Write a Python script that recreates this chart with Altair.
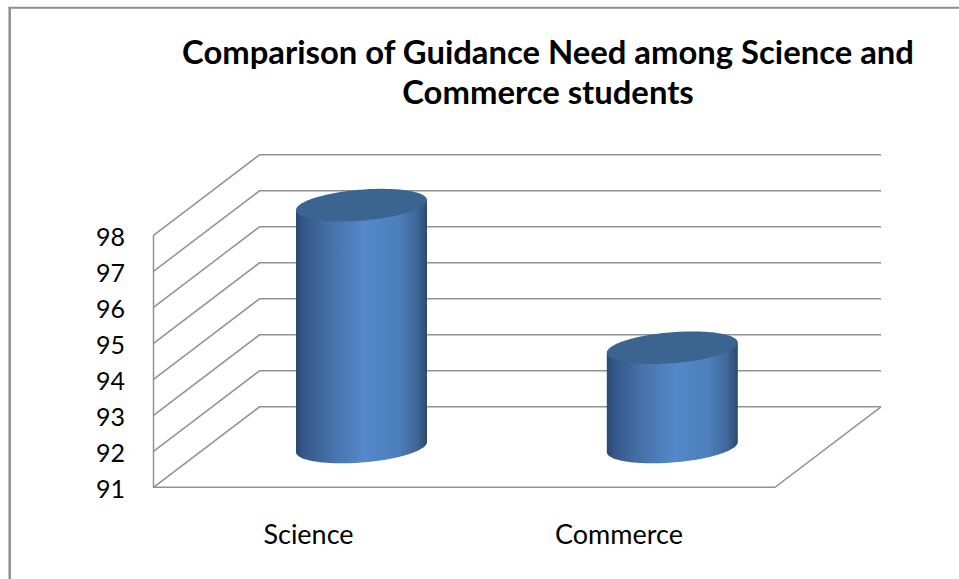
import math

import altair as alt
import pandas as pd

# Chart values
categories = ["Science", "Commerce"]
guidance_need = [97.72, 93.76]
tick_values = [91, 92, 93, 94, 95, 96, 97, 98]
title_lines = ["Comparison of Guidance Need among Science and", "Commerce students"]

# Oblique drawing of the box: horizontal positions on the page, heights in value units
WIDTH, HEIGHT = 959, 579
UNIT = 36.0
FLOOR_PX = 487.3
WALL_X, BACK_X, FRONT_END_X, BACK_END_X = 153.5, 259.5, 775.0, 881.0
DEPTH_RISE = 80.5 / UNIT
CYL_CENTER = [361.5, 672.3]
CYL_HALF_WIDTH = 65.5
ELLIPSE_HALF = 15.5 / UNIT
ELLIPSE_TILT = 5.0 / UNIT / CYL_HALF_WIDTH

GRID_COLOR = "#929292"
FONT = "Lato"

x_scale = alt.Scale(domain=[0, WIDTH], range=[0, WIDTH], nice=False, zero=False)
y_scale = alt.Scale(
    domain=[91 - (HEIGHT - FLOOR_PX) / UNIT, 91 + FLOOR_PX / UNIT],
    range=[HEIGHT, 0],
    nice=False,
    zero=False,
)
X = alt.X("x:Q", scale=x_scale, axis=None)
Y = alt.Y("y:Q", scale=y_scale, axis=None)


def page_level(px):
    """Value level that sits at a given distance from the top of the page."""
    return 91 + (FLOOR_PX - px) / UNIT


# Wall and back lines for every tick, with the floor outline on the lowest one
grid_rows = []
for v in tick_values:
    path = [(WALL_X, v), (BACK_X, v + DEPTH_RISE), (BACK_END_X, v + DEPTH_RISE)]
    for i, (px, val) in enumerate(path):
        grid_rows.append({"line": f"g{v}", "i": i, "x": px, "y": val})
outline = [
    (WALL_X, tick_values[-1]),
    (WALL_X, tick_values[0]),
    (FRONT_END_X, tick_values[0]),
    (BACK_END_X, tick_values[0] + DEPTH_RISE),
]
for i, (px, val) in enumerate(outline):
    grid_rows.append({"line": "outline", "i": i, "x": px, "y": val})

grid = (
    alt.Chart(pd.DataFrame(grid_rows))
    .mark_line(color=GRID_COLOR, strokeWidth=1.5, interpolate="linear")
    .encode(x=X, y=Y, detail="line:N", order="i:Q")
)


def ellipse_arc(cx, level, side):
    """Tilted ellipse edge at a value level; side is +1 for the upper arc, -1 for the lower."""
    rows = []
    for k in range(73):
        t = math.pi * k / 72
        px = cx - CYL_HALF_WIDTH * math.cos(t)
        mid = level + ELLIPSE_TILT * (px - cx)
        rows.append((px, mid, mid + side * ELLIPSE_HALF * math.sin(t)))
    return rows


body_gradient = alt.Gradient(
    gradient="linear",
    x1=0, x2=1, y1=0, y2=0,
    stops=[
        alt.GradientStop(offset=0.0, color="#2b4a72"),
        alt.GradientStop(offset=0.06, color="#35588a"),
        alt.GradientStop(offset=0.25, color="#4570a6"),
        alt.GradientStop(offset=0.52, color="#5488ca"),
        alt.GradientStop(offset=0.78, color="#4d7fbc"),
        alt.GradientStop(offset=0.92, color="#3f6797"),
        alt.GradientStop(offset=1.0, color="#2b4a70"),
    ],
)

body_rows, cap_rows = [], []
floor_mid = tick_values[0] + DEPTH_RISE / 2
for name, value, cx in zip(categories, guidance_need, CYL_CENTER):
    top_mid = floor_mid + (value - tick_values[0])
    for px, mid, low in ellipse_arc(cx, floor_mid, -1):
        body_rows.append(
            {"name": name, "x": px, "y": top_mid + ELLIPSE_TILT * (px - cx), "y2": low}
        )
    upper = ellipse_arc(cx, top_mid, 1)
    lower = ellipse_arc(cx, top_mid, -1)
    for (px, _, hi), (_, _, lo) in zip(upper, lower):
        cap_rows.append({"name": name, "x": px, "y": hi, "y2": lo})

bodies = (
    alt.Chart(pd.DataFrame(body_rows))
    .mark_area(color=body_gradient, interpolate="linear")
    .encode(x=X, y=Y, y2="y2:Q", detail="name:N")
)
caps = (
    alt.Chart(pd.DataFrame(cap_rows))
    .mark_area(color="#3c6491", interpolate="linear")
    .encode(x=X, y=Y, y2="y2:Q", detail="name:N")
)

# Value labels beside the wall, category labels under the floor
tick_labels = (
    alt.Chart(pd.DataFrame({"y": tick_values, "x": [125.0] * len(tick_values)}))
    .mark_text(align="right", baseline="middle", font=FONT, fontSize=25, color="#000000", dy=2.5)
    .encode(x=X, y=Y, text="y:Q")
)
category_labels = (
    alt.Chart(pd.DataFrame({"name": categories, "x": [308.5, 619.0], "y": [91 - 48.5 / UNIT] * 2}))
    .mark_text(align="center", baseline="middle", font=FONT, fontSize=27, color="#000000")
    .encode(x=X, y=Y, text="name:N")
)

# Page frame: only the top and left edges fall inside the view
frame_left = (
    alt.Chart(pd.DataFrame({"x": [9.7, 9.7], "y": [page_level(7), page_level(HEIGHT)]}))
    .mark_line(color="#8e8e8e", strokeWidth=2.5)
    .encode(x=X, y=Y)
)
frame_top = (
    alt.Chart(pd.DataFrame({"x": [8.5, float(WIDTH)], "y": [page_level(7.7)] * 2}))
    .mark_line(color="#8e8e8e", strokeWidth=2)
    .encode(x=X, y=Y)
)

chart = (
    alt.layer(frame_left, frame_top, grid, bodies, caps, tick_labels, category_labels)
    .properties(
        width=WIDTH,
        height=HEIGHT,
        padding=0,
        autosize=alt.AutoSizeParams(type="none"),
        background="#ffffff",
        title=alt.TitleParams(
            text=title_lines,
            anchor="middle",
            font=FONT,
            fontSize=32.8,
            fontWeight="bold",
            color="#000000",
            lineHeight=40,
            baseline="alphabetic",
            dx=68.5,
            dy=136.5,
            offset=0,
        ),
    )
    .configure_view(stroke=None)
)

chart.save("out.html", embed_options={"renderer": "svg", "actions": False})
